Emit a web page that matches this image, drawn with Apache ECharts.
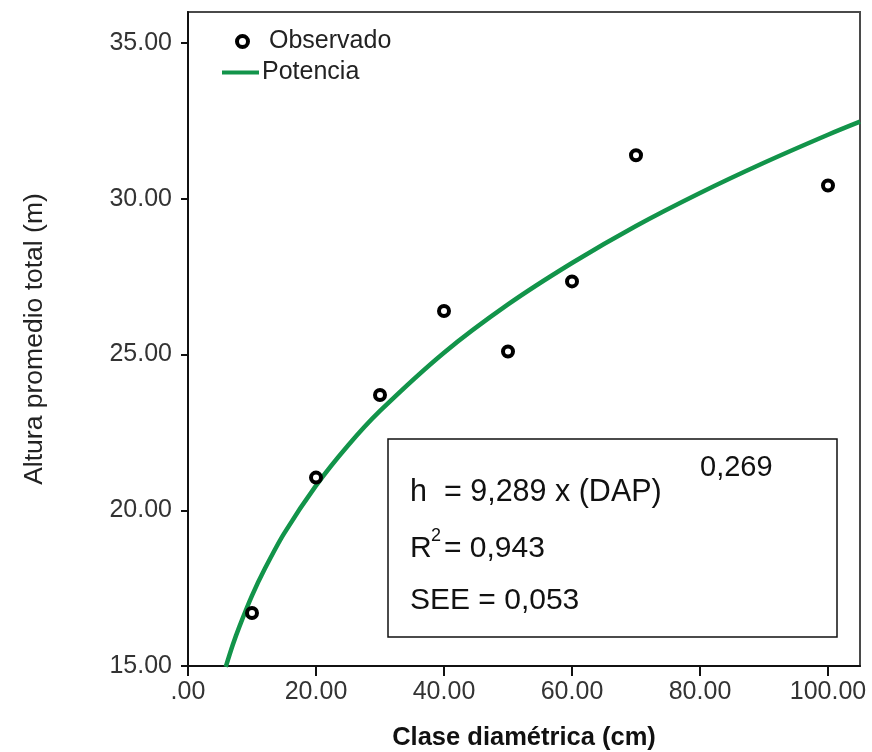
<!DOCTYPE html>
<html><head><meta charset="utf-8">
<script src="https://cdn.jsdelivr.net/npm/echarts@6/dist/echarts.min.js"></script>
<style>html,body{margin:0;padding:0;background:#fff}#c{width:872px;height:752px}</style>
</head><body><div id="c"></div>
<script>
const diam = [10, 20, 30, 40, 50, 60, 70, 100];
const alturaObs = [16.7, 21.05, 23.7, 26.4, 25.1, 27.35, 31.4, 30.43];
const curveX = [5.9, 7, 8, 10, 12, 15, 20, 25, 30, 40, 50, 60, 70, 80, 90, 100, 105];
const curveY = [14.97, 15.68, 16.25, 17.26, 18.12, 19.25, 20.79, 22.08, 23.19, 25.06, 26.61, 27.94, 29.13, 30.19, 31.16, 32.06, 32.48];
const xTicks = [0, 20, 40, 60, 80, 100];
const yTicks = [15, 20, 25, 30, 35];
const FONT = '"Liberation Sans", Arial, sans-serif';
const GREEN = '#12944a';

const chart = echarts.init(document.getElementById('c'), null, {renderer: 'canvas'});
chart.setOption({
  backgroundColor: '#fff',
  animation: false,
  textStyle: {fontFamily: FONT},
  grid: {left: 188, right: 12, top: 12, bottom: 86, show: true, borderColor: '#4a4a4a', borderWidth: 2,
         containLabel: false, outerBoundsMode: 'none'},
  xAxis: {
    type: 'value', min: 0, max: 105,
    name: 'Clase diamétrica (cm)', nameLocation: 'middle', nameGap: 59,
    nameTextStyle: {fontFamily: FONT, fontSize: 25.5, fontWeight: 'bold', color: '#111'},
    axisLine: {show: true, onZero: false, lineStyle: {color: '#111', width: 2}},
    axisTick: {show: true, length: 10, customValues: xTicks, lineStyle: {color: '#111', width: 2}},
    axisLabel: {customValues: xTicks, margin: 14, fontFamily: FONT, fontSize: 25, color: '#333',
      formatter: v => v === 0 ? '.00' : v.toFixed(2)},
    splitLine: {show: false}
  },
  yAxis: {
    type: 'value', min: 15, max: 36,
    name: 'Altura promedio total (m)', nameLocation: 'middle', nameGap: 140, nameRotate: 90,
    nameTextStyle: {fontFamily: FONT, fontSize: 26.5, color: '#222'},
    axisLine: {show: true, onZero: false, lineStyle: {color: '#111', width: 2}},
    axisTick: {show: true, length: 7, customValues: yTicks, lineStyle: {color: '#111', width: 2}},
    axisLabel: {customValues: yTicks, margin: 16, fontFamily: FONT, fontSize: 25, color: '#333',
      formatter: v => v.toFixed(2)},
    splitLine: {show: false}
  },
  legend: [
    {data: ['Observado'], left: 235, top: 29, padding: 0, itemWidth: 11, itemHeight: 11,
     itemStyle: {color: '#fff', borderColor: '#000', borderWidth: 4},
     textStyle: {fontFamily: FONT, fontSize: 25, color: '#222', padding: [0, 0, 0, 16]}},
    {data: [{name: 'Potencia', icon: 'rect'}], left: 222, top: 60, padding: 0, itemWidth: 37, itemHeight: 4,
     itemStyle: {color: GREEN, borderWidth: 0},
     textStyle: {fontFamily: FONT, fontSize: 25, color: '#222', padding: [0, 0, 0, -2]}}
  ],
  series: [
    {name: 'Potencia', type: 'line', data: curveX.map((x, i) => [x, curveY[i]]),
     smooth: 0.3, showSymbol: false, symbol: 'none', clip: true,
     lineStyle: {color: GREEN, width: 4.5}, itemStyle: {color: GREEN}, z: 2},
    {name: 'Observado', type: 'scatter', data: diam.map((x, i) => [x, alturaObs[i]]),
     symbol: 'circle', symbolSize: 10,
     itemStyle: {color: '#fff', borderColor: '#000', borderWidth: 4, opacity: 1}, z: 3}
  ],
  graphic: [
    {type: 'rect', shape: {x: 388, y: 439, width: 449, height: 198},
     style: {fill: '#fff', stroke: '#111', lineWidth: 1.5}, z: 10},
    {type: 'text', left: 410, top: 477, z: 11,
     style: {text: 'h  = 9,289 x (DAP)', font: '30.5px ' + FONT, fill: '#111'}},
    {type: 'text', left: 700, top: 453, z: 11,
     style: {text: '0,269', font: '29px ' + FONT, fill: '#111'}},
    {type: 'text', left: 410, top: 534, z: 11,
     style: {text: 'R', font: '30px ' + FONT, fill: '#111'}},
    {type: 'text', left: 431, top: 527, z: 11,
     style: {text: '2', font: '18px ' + FONT, fill: '#111'}},
    {type: 'text', left: 444, top: 534, z: 11,
     style: {text: '= 0,943', font: '30px ' + FONT, fill: '#111'}},
    {type: 'text', left: 410, top: 586, z: 11,
     style: {text: 'SEE = 0,053', font: '30px ' + FONT, fill: '#111'}}
  ]
});
</script></body></html>
